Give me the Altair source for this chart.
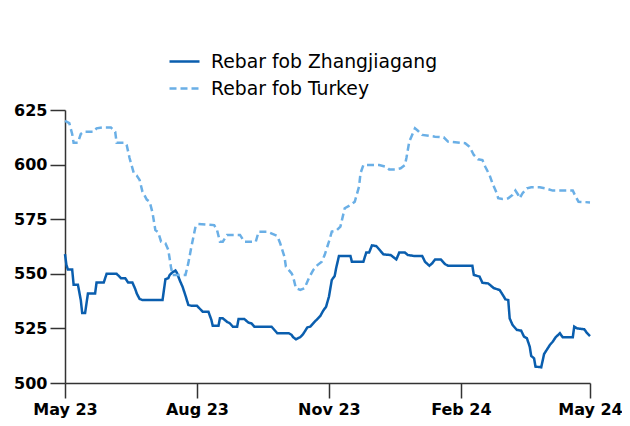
import altair as alt
import pandas as pd

zjg_dates = ["2023-05-01","2023-05-02","2023-05-03","2023-05-06","2023-05-07","2023-05-10","2023-05-12","2023-05-13",
    "2023-05-15","2023-05-17","2023-05-22","2023-05-23","2023-05-28","2023-05-30","2023-06-06","2023-06-09",
    "2023-06-12","2023-06-14","2023-06-17","2023-06-19","2023-06-20","2023-06-22","2023-06-24","2023-07-08",
    "2023-07-10","2023-07-12","2023-07-13","2023-07-15","2023-07-17","2023-07-18","2023-07-20","2023-07-22",
    "2023-07-24","2023-07-26","2023-07-28","2023-08-01","2023-08-03","2023-08-05","2023-08-09","2023-08-11",
    "2023-08-12","2023-08-16","2023-08-17","2023-08-19","2023-08-22","2023-08-24","2023-08-26","2023-08-29",
    "2023-08-30","2023-09-03","2023-09-06","2023-09-08","2023-09-10","2023-09-22","2023-09-26","2023-10-04",
    "2023-10-06","2023-10-07","2023-10-09","2023-10-12","2023-10-14","2023-10-17","2023-10-19","2023-10-22",
    "2023-10-26","2023-10-28","2023-10-30","2023-11-01","2023-11-03","2023-11-05","2023-11-06","2023-11-08",
    "2023-11-16","2023-11-17","2023-11-25","2023-11-27","2023-11-29","2023-12-01","2023-12-04","2023-12-06",
    "2023-12-09","2023-12-14","2023-12-16","2023-12-18","2023-12-20","2023-12-24","2023-12-26","2023-12-30",
    "2024-01-05","2024-01-07","2024-01-10","2024-01-12","2024-01-14","2024-01-18","2024-01-21","2024-01-23",
    "2024-02-09","2024-02-10","2024-02-14","2024-02-16","2024-02-20","2024-02-24","2024-02-28","2024-03-02",
    "2024-03-03","2024-03-05","2024-03-06","2024-03-08","2024-03-11","2024-03-14","2024-03-16","2024-03-18",
    "2024-03-20","2024-03-21","2024-03-23","2024-03-24","2024-03-28","2024-03-30","2024-03-31","2024-04-03",
    "2024-04-05","2024-04-07","2024-04-10","2024-04-12","2024-04-19","2024-04-20","2024-04-22","2024-04-27",
    "2024-04-29","2024-05-01"]
zjg_values = [559,554,552,552,545,545,538,532,
    532,541,541,546,546,550,550,548,
    548,546,546,543,541,538.5,538,538,
    547.5,548,549.5,550.7,551.5,550.5,547,544,
    540,535.7,535.4,535.4,534,532.6,532.6,529,
    526.2,526.2,529.6,529.6,528,527.3,525.8,525.8,
    529.3,529.3,527.6,527.3,525.8,525.8,522.8,522.8,
    522,521,520,521,522.4,525.5,525.8,528,
    530.7,533.1,534.9,539.5,547.2,549,552.5,558.2,
    558.2,555.5,555.5,559.7,559.7,563,562.7,561.2,
    558.9,558.6,557.6,556.6,559.7,559.7,558.6,558.2,
    558.2,555.5,553.7,554.8,556.6,556.6,554.4,553.7,
    553.7,549.5,548.7,545.9,545.6,543.4,542.6,539.5,
    538.3,538,529.6,526.6,524.3,524,521.2,520.5,
    516.6,512.4,511.3,507.5,507.2,513.3,514.3,517.4,
    518.9,520.9,522.8,520.9,520.9,525.8,525,524.6,
    522.8,521.5]

tur_dates = ["2023-05-01","2023-05-04","2023-05-06","2023-05-07","2023-05-10","2023-05-12","2023-05-14","2023-05-21",
    "2023-05-23","2023-05-27","2023-06-02","2023-06-05","2023-06-06","2023-06-12","2023-06-13","2023-06-15",
    "2023-06-18","2023-06-20","2023-06-22","2023-06-24","2023-06-27","2023-06-29","2023-07-01","2023-07-03",
    "2023-07-05","2023-07-07","2023-07-10","2023-07-12","2023-07-14","2023-07-15","2023-07-24","2023-07-26",
    "2023-07-28","2023-07-31","2023-08-02","2023-08-13","2023-08-15","2023-08-17","2023-08-19","2023-08-22",
    "2023-08-31","2023-09-03","2023-09-11","2023-09-13","2023-09-19","2023-09-26","2023-09-28","2023-10-01",
    "2023-10-02","2023-10-06","2023-10-07","2023-10-09","2023-10-12","2023-10-15","2023-10-18","2023-10-21",
    "2023-10-24","2023-10-27","2023-10-29","2023-11-01","2023-11-03","2023-11-06","2023-11-09","2023-11-12",
    "2023-11-16","2023-11-19","2023-11-22","2023-11-23","2023-11-25","2023-12-06","2023-12-11","2023-12-13",
    "2023-12-17","2023-12-21","2023-12-24","2023-12-25","2023-12-27","2023-12-31","2024-01-02","2024-01-05",
    "2024-01-14","2024-01-20","2024-01-23","2024-02-04","2024-02-07","2024-02-10","2024-02-13","2024-02-16",
    "2024-02-18","2024-02-21","2024-02-23","2024-02-26","2024-02-27","2024-03-01","2024-03-05","2024-03-08",
    "2024-03-10","2024-03-12","2024-03-13","2024-03-15","2024-03-18","2024-03-21","2024-03-27","2024-03-31",
    "2024-04-05","2024-04-19","2024-04-21","2024-04-23","2024-05-01"]
tur_values = [620,619,614,610,610,614,615,615,
    616.6,617,617,615,610,610,609,603,
    596,595,593,587.6,584,583,578,570,
    569,564.7,564,561,552.5,549.5,549.5,555,
    562,571.6,572.8,572.3,570,564.7,564.7,567.8,
    567.8,564.7,564.7,569.3,569.3,567.3,564,557.8,
    553.3,550.2,548.7,543.4,542.6,543.4,548,551.7,
    554,555.5,558.6,564.7,569.3,569.7,571.6,580,
    581.5,583,590,596,599.8,599.8,599,597.8,
    597.8,598.3,599.8,603,610.5,616.6,615.5,613.6,
    612.8,612.5,610.5,609.8,608.2,604.4,602.4,602.1,
    599,595.2,591.4,586.9,584.6,584.3,584.6,586.1,
    588.1,586.1,584.6,586.9,589.1,589.6,589.6,589.1,
    588.1,588.1,585.3,583,582.7]

series_names = ["Rebar fob Zhangjiagang", "Rebar fob Turkey"]
series_colors = ["#0A5EAE", "#6AAFE6"]
y_ticks = [500, 525, 550, 575, 600, 625]
x_ticks = ["2023-05-01", "2023-08-01", "2023-11-01", "2024-02-01", "2024-05-01"]

df = pd.concat([
    pd.DataFrame({"date": zjg_dates, "value": zjg_values, "series": series_names[0]}),
    pd.DataFrame({"date": tur_dates, "value": tur_values, "series": series_names[1]}),
])

FONT = "DejaVu Sans"

x_tick_vals = [alt.DateTime(year=int(d[:4]), month=int(d[5:7]), date=int(d[8:10])) for d in x_ticks]

legend_cfg = dict(title=None, orient="none", legendX=103, legendY=-65,
                  labelFont=FONT, labelFontSize=18.8, labelColor="#000", labelLimit=500,
                  symbolType="stroke", symbolSize=900, symbolStrokeWidth=2.5,
                  rowPadding=-6, labelOffset=10)

chart = alt.Chart(df).mark_line(strokeWidth=2.5, interpolate="linear").encode(
    x=alt.X("date:T",
            scale=alt.Scale(domain=[x_tick_vals[0], x_tick_vals[-1]]),
            axis=alt.Axis(title=None, values=x_tick_vals, format="%b %y", grid=False,
                          tickSize=15, tickColor="#333", domainColor="#333", domainWidth=1.5,
                          tickWidth=1.5, labelFont=FONT, labelFontSize=16, labelFontWeight="bold",
                          labelColor="#000", labelPadding=3, labelFlush=False)),
    y=alt.Y("value:Q",
            scale=alt.Scale(domain=[500, 625], nice=False, zero=False),
            axis=alt.Axis(title=None, values=y_ticks, grid=False, tickSize=15,
                          tickColor="#333", domainColor="#333", domainWidth=1.5, tickWidth=1.5,
                          labelFont=FONT, labelFontSize=16, labelFontWeight="bold",
                          labelColor="#000", labelPadding=3)),
    color=alt.Color("series:N", scale=alt.Scale(domain=series_names, range=series_colors),
                    legend=alt.Legend(**legend_cfg)),
    strokeDash=alt.StrokeDash("series:N", scale=alt.Scale(domain=series_names, range=[[1, 0], [7, 4]]),
                              legend=alt.Legend(**legend_cfg)),
).properties(
    width=525, height=273,
    padding={"left": 57, "top": 102, "right": 32, "bottom": 40},
    autosize=alt.AutoSizeParams(type="none"),
).configure_view(stroke=None)

chart.save("out.html", embed_options={"renderer": "svg", "actions": False})
